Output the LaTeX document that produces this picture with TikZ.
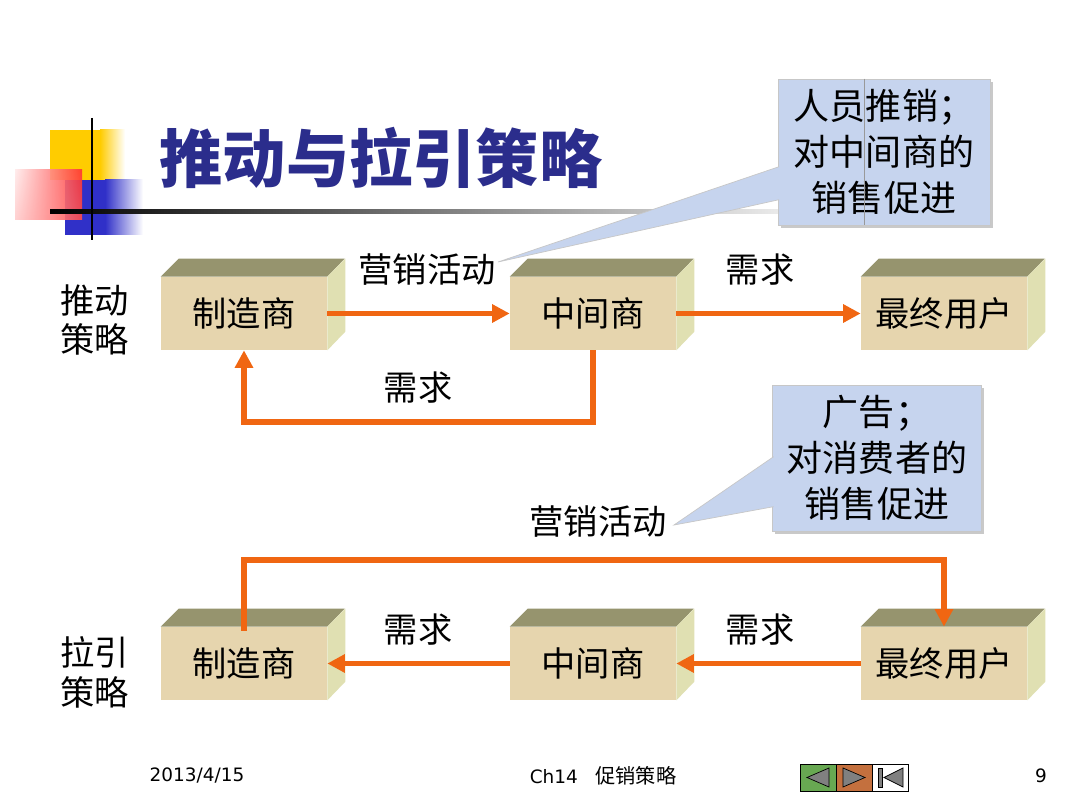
\documentclass[tikz,border=0pt]{standalone}
\usepackage{fontspec}
\setmainfont{Noto Sans CJK SC}
\newfontfamily\footfont{DejaVu Sans}
\usepackage{xcolor}
\usepackage{tikz}
\usetikzlibrary{positioning, shapes, arrows, calc, arrows.meta, shadows, shadings}

\definecolor{flowc}{RGB}{240,102,18}
\definecolor{frontc}{RGB}{230,213,174}
\definecolor{topc}{RGB}{150,148,110}
\definecolor{sidec}{RGB}{224,224,178}
\definecolor{notec}{RGB}{198,212,238}
\definecolor{titlec}{RGB}{43,45,140}
\definecolor{logoy}{RGB}{255,204,0}
\definecolor{logob}{RGB}{48,48,200}
\definecolor{navg}{RGB}{104,168,82}
\definecolor{navo}{RGB}{196,112,62}

\begin{document}
\begin{tikzpicture}[x=0.02cm, y=-0.02cm,
          box/.style={rectangle, fill=frontc, minimum width=3.32cm, minimum height=1.46cm, inner sep=0pt, font=\fontsize{19.5}{24}\selectfont},
          lbl/.style={inner sep=0pt, align=center, font=\fontsize{19.5}{22.7}\selectfont},
          note/.style={rectangle, fill=notec, draw=black!22, inner sep=0pt, align=center, font=\fontsize{20.5}{26}\selectfont, drop shadow={shadow xshift=1.6pt, shadow yshift=-1.6pt, fill=black!35, opacity=0.6}},
          pointer/.style={fill=notec, draw=black!22},
          flow/.style={draw=flowc, line width=3.3pt, -{Triangle[length=10pt,width=10pt]}},
          foot/.style={inner sep=0pt, font=\footfont\fontsize{10.5}{12}\selectfont}]
          \useasboundingbox (0,0) rectangle (1080,810);
          \fill[white] (0,0) rectangle (1080,810);

          % logo and title
          \fill[logoy] (50,130) rectangle (100,180);
          \shade[left color=logoy, right color=white] (100,130) rectangle (125,180);
          \fill[logob] (65,180) rectangle (105,235);
          \shade[left color=logob, right color=white] (105,180) rectangle (143,235);
          \shade[upper left=red!8, upper right=red!80, lower left=red!20, lower right=red!70, opacity=0.9] (15,170) rectangle (82,220);
          \shade[left color=black, right color=black!8] (50,210) rectangle (780,214);
          \draw[line width=1.7pt] (92,118) -- (92,240);
          \node[inner sep=0pt, text=titlec, font=\fontsize{36}{40}\selectfont\bfseries] (title) at (381,158) {推动与拉引策略};

          % callouts
          \node[note, minimum width=4.24cm, minimum height=2.92cm] (n1) at (884,152) {人员推销；\\对中间商的\\销售促进};
          \draw[black!40, very thin] ($(n1.north west)+(87,0)$) -- ($(n1.south west)+(87,0)$);
          \coordinate (tip1) at (498,262);
          \filldraw[pointer] ($(n1.north west)+(1.5,121)$) -- (tip1) -- ($(n1.north west)+(1.5,88)$);

          \node[note, minimum width=4.18cm, minimum height=2.92cm] (n2) at (877,458) {广告；\\对消费者的\\销售促进};
          \coordinate (tip2) at (674,525);
          \filldraw[pointer] ($(n2.north west)+(1.5,122)$) -- (tip2) -- ($(n2.north west)+(1.5,72)$);

          % push strategy
          \node[lbl] (push) at (95,320) {推动\\策略};
          \node[box] (m1) at (244,313.5) {制造商};
          \node[box] (i1) at (593,313.5) {中间商};
          \node[box] (u1) at (944,313.5) {最终用户};

          % pull strategy
          \node[lbl] (pull) at (95,672) {拉引\\策略};
          \node[box] (m2) at (244,663.5) {制造商};
          \node[box] (i2) at (593,663.5) {中间商};
          \node[box] (u2) at (944,663.5) {最终用户};

          \foreach \b in {m1,i1,u1,m2,i2,u2}{
            \fill[topc] (\b.north west) -- ++(18,-18) -- ++(166,0) -- (\b.north east) -- cycle;
            \fill[sidec] (\b.north east) -- ++(18,-18) -- ++(0,73) -- (\b.south east) -- cycle;
          }

          \node[lbl] (act1) at (427,270) {营销活动};
          \node[lbl] (need1) at (760,270) {需求};
          \node[lbl] (need2) at (418,388) {需求};
          \node[lbl] (act2) at (598,522) {营销活动};
          \node[lbl] (need3) at (418,630) {需求};
          \node[lbl] (need4) at (760,630) {需求};

          \draw[flow] (m1) -- (i1);
          \draw[flow] (i1) -- (u1);
          \draw[flow] (i1.south) -- ++(0,72) -| (m1.south);

          \draw[flow] ($(m2.north)+(0,4)$) -- ++(0,-71) -| (u2.north);
          \draw[flow] (u2) -- (i2);
          \draw[flow] (i2) -- (m2);

          % footer
          \node[foot] (date) at (197,776) {2013/4/15};
          \node[foot] (chap) at (603,776) {Ch14\hspace{10pt}{\normalfont\fontsize{11.5}{12}\selectfont 促销策略}};
          \node[foot] (page) at (1041,776) {9};
          \draw[fill=navg] (800,764) rectangle (836,791);
          \draw[fill=navo] (836,764) rectangle (872,791);
          \draw[fill=white] (872,764) rectangle (908,791);
          \draw[fill=black!50] (807,777.5) -- (829,768) -- (829,787) -- cycle;
          \draw[fill=black!50] (843,768) -- (843,787) -- (865,777.5) -- cycle;
          \draw[fill=black!50] (878,768) rectangle (882,787);
          \draw[fill=black!50] (884,777.5) -- (903,768) -- (903,787) -- cycle;
        \end{tikzpicture}
\end{document}
